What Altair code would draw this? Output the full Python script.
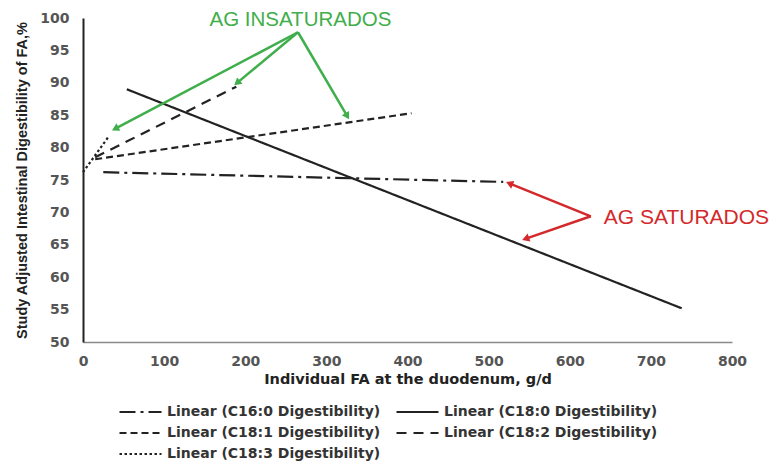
import math
import altair as alt
import pandas as pd

# ---- data ----
series = ["C16:0", "C18:0", "C18:1", "C18:2", "C18:3"]
x_start = [25, 54, 15, 15, 0]
x_end = [518, 738, 405, 189, 31]
y_start = [76.2, 89.0, 78.2, 78.5, 76.2]
y_end = [74.7, 55.2, 85.3, 89.4, 81.6]
dash_patterns = [[16, 5, 3, 5], [1, 0], [7, 4], [10, 7], [2.5, 2.5]]
line_widths = [2.2, 2.2, 2.2, 2.2, 3.5]
# legend fills column by column: this order shows the rows as in the reference
legend_order = ["C16:0", "C18:1", "C18:3", "C18:0", "C18:2"]

x_ticks = list(range(0, 801, 100))
y_ticks = list(range(50, 101, 5))

green_label = "AG INSATURADOS"
green_label_pos = (268, 99.7)
green_from = (265, 97.8)
green_to_x = [41, 191, 325]
green_to_y = [83.0, 90.1, 85.0]

red_label = "AG SATURADOS"
red_label_pos = (642, 69.1)
red_from = (626, 69.4)
red_to_x = [527, 547]
red_to_y = [74.4, 66.0]

GREEN = "#3fae4b"
RED = "#d3292b"
INK = "#222222"

W, H = 649, 324
XMAX, YMIN, YMAX = 800, 50, 100


def lab(s):
    return f"Linear ({s} Digestibility)"


labels = [lab(s) for s in series]
dash_by = dict(zip(series, dash_patterns))
width_by = dict(zip(series, line_widths))
legend_domain = [lab(s) for s in legend_order]
legend_dashes = [dash_by[s] for s in legend_order]
legend_widths = [width_by[s] for s in legend_order]

rows = []
for lb, xs, xe, ys, ye in zip(labels, x_start, x_end, y_start, y_end):
    rows.append({"series": lb, "x": xs, "y": ys})
    rows.append({"series": lb, "x": xe, "y": ye})
lines_df = pd.DataFrame(rows)

xscale = alt.Scale(domain=[0, XMAX], nice=False, zero=False)
yscale = alt.Scale(domain=[YMIN, YMAX], nice=False, zero=False)

x_axis = alt.Axis(values=x_ticks, grid=False, ticks=False, domainColor="#8a8a8a", domainWidth=1.5,
                  labelFont="DejaVu Sans", labelFontWeight="bold", labelFontSize=14, labelColor="#555555",
                  labelPadding=12, labelFlush=False, labelOverlap=False,
                  title="Individual FA at the duodenum, g/d", titleFont="DejaVu Sans",
                  titleFontSize=14.5, titleFontWeight="bold", titleColor=INK, titlePadding=4)
y_axis = alt.Axis(values=y_ticks, grid=False, ticks=False, domainColor=INK, domainWidth=2,
                  labelFont="DejaVu Sans", labelFontWeight="bold", labelFontSize=14, labelColor="#555555",
                  labelPadding=14, labelFlush=False, labelOverlap=False,
                  title="Study Adjusted Intestinal Digestibility of FA,%", titleFont="Liberation Sans",
                  titleFontSize=14.5, titleFontWeight="bold", titleColor=INK, titlePadding=10)


def X(field="x"):
    return alt.X(f"{field}:Q", scale=xscale, axis=x_axis)


def Y(field="y"):
    return alt.Y(f"{field}:Q", scale=yscale, axis=y_axis)


legend = alt.Legend(title=None, orient="none", legendX=35, legendY=386, columns=2,
                    symbolType="stroke", symbolSize=1764, symbolStrokeColor=INK,
                    clipHeight=16, rowPadding=5, columnPadding=14,
                    labelFont="DejaVu Sans", labelFontWeight="bold", labelFontSize=14,
                    labelColor="#333333", labelOffset=4, labelLimit=400)

lines = alt.Chart(lines_df).mark_line(color=INK).encode(
    x=X(), y=Y(),
    strokeDash=alt.StrokeDash("series:N", scale=alt.Scale(domain=legend_domain, range=legend_dashes),
                              legend=legend),
    strokeWidth=alt.StrokeWidth("series:N", scale=alt.Scale(domain=legend_domain, range=legend_widths),
                                legend=legend),
    detail="series:N",
)

sx, sy = W / XMAX, H / (YMAX - YMIN)


def arrow_layers(src, tx, ty, color):
    seg = pd.DataFrame({"x": [src[0]] * len(tx), "y": [src[1]] * len(tx), "x2": tx, "y2": ty})
    ang = []
    for a, b in zip(tx, ty):
        dx, dy = a - src[0], b - src[1]
        ang.append(math.degrees(math.atan2(dx * sx, dy * sy)) % 360)
    head = pd.DataFrame({"x": tx, "y": ty, "angle": ang})
    r = alt.Chart(seg).mark_rule(color=color, strokeWidth=2.5).encode(
        x=X(), y=Y(), x2="x2:Q", y2="y2:Q")
    h = alt.Chart(head).mark_point(shape="triangle", filled=True, size=70, color=color, opacity=1).encode(
        x=X(), y=Y(), angle=alt.Angle("angle:Q", scale=None))
    return r + h


green_arrows = arrow_layers(green_from, green_to_x, green_to_y, GREEN)
red_arrows = arrow_layers(red_from, red_to_x, red_to_y, RED)

txt_df = pd.DataFrame({"x": [green_label_pos[0]], "y": [green_label_pos[1]], "t": [green_label]})
green_text = alt.Chart(txt_df).mark_text(font="Liberation Sans", fontSize=20.5, color=GREEN,
                                         align="center", baseline="middle").encode(
    x=X(), y=Y(), text="t:N")
rtxt_df = pd.DataFrame({"x": [red_label_pos[0]], "y": [red_label_pos[1]], "t": [red_label]})
red_text = alt.Chart(rtxt_df).mark_text(font="Liberation Sans", fontSize=21, color=RED,
                                        align="left", baseline="middle").encode(
    x=X(), y=Y(), text="t:N")

chart = alt.layer(lines, green_arrows, red_arrows, green_text, red_text).properties(
    width=W, height=H,
    padding={"left": 75, "top": 10, "right": 38, "bottom": 119},
    autosize=alt.AutoSizeParams(type="none"),
    background="white",
).configure_view(strokeWidth=0)

chart.save("out.html", embed_options={"renderer": "svg", "actions": False})
